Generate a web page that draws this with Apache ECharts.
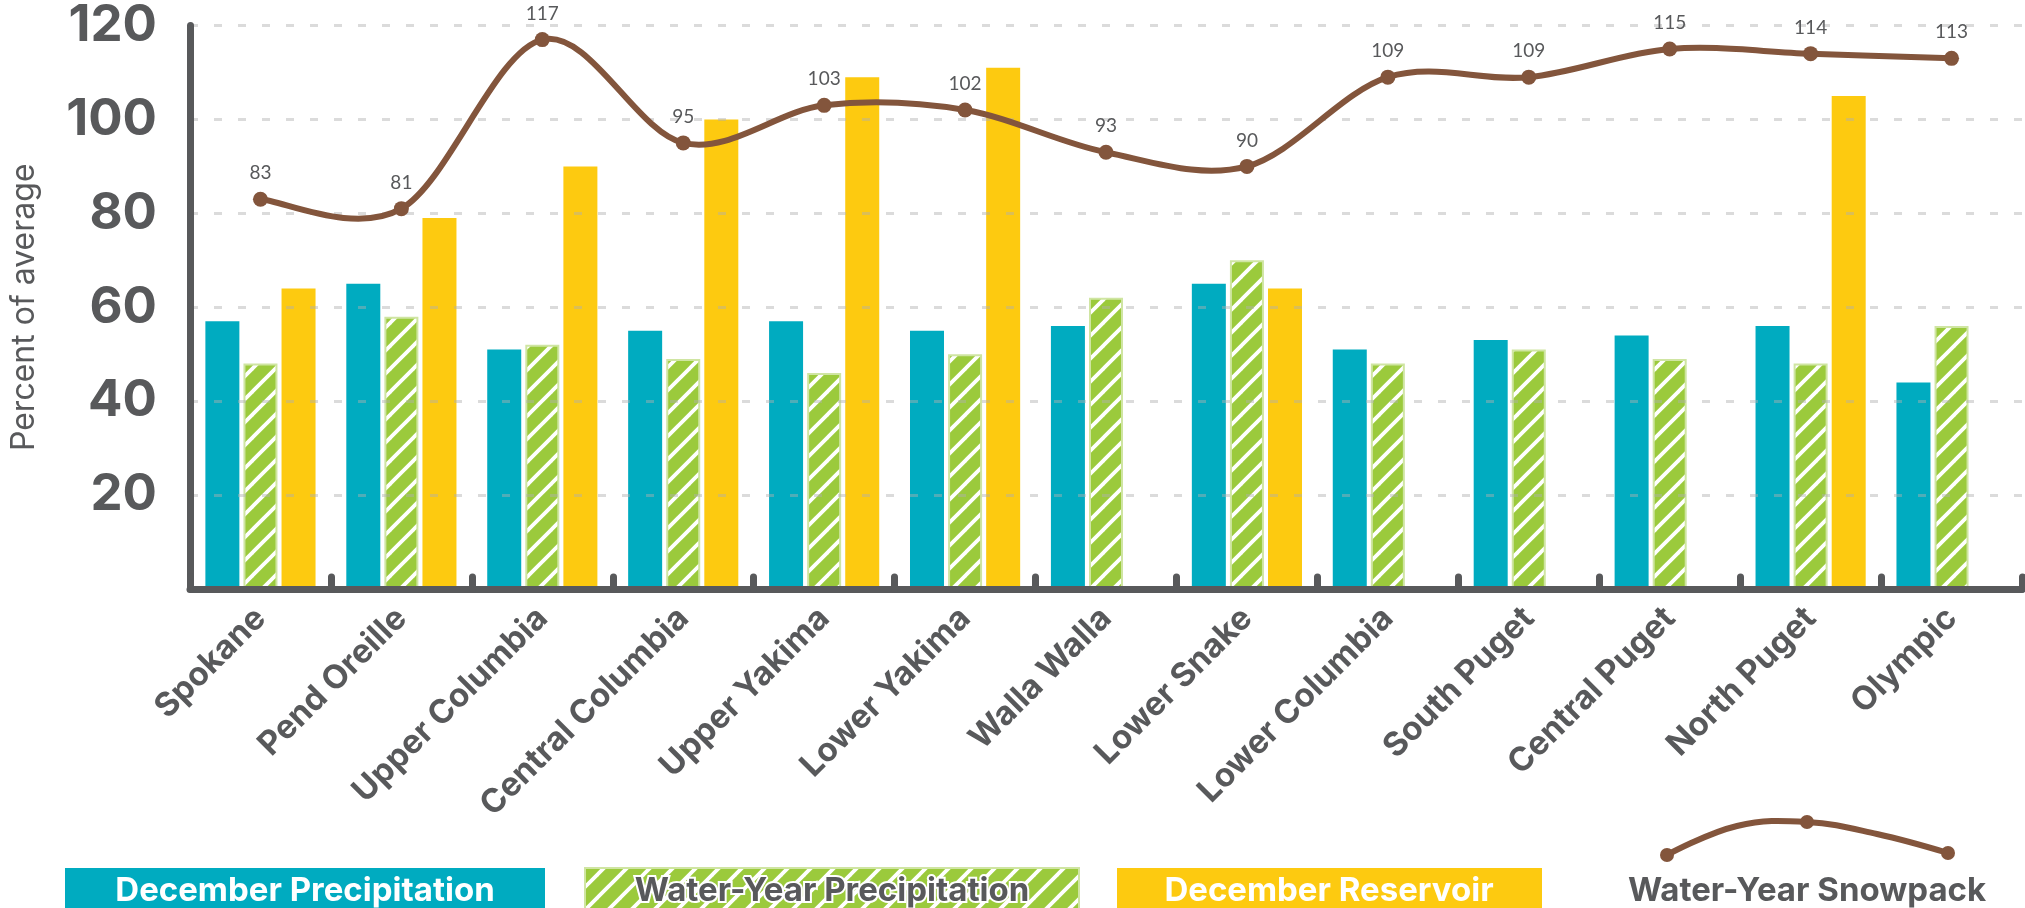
<!DOCTYPE html>
<html>
<head>
<meta charset="utf-8">
<script src="https://cdn.jsdelivr.net/npm/echarts@6/dist/echarts.min.js"></script>
<style>
html,body{margin:0;padding:0;background:#fff;}
#chart{width:2025px;height:908px;}
</style>
</head>
<body>
<div id="chart"></div>
<script>
const categories = ['Spokane','Pend Oreille','Upper Columbia','Central Columbia','Upper Yakima','Lower Yakima','Walla Walla','Lower Snake','Lower Columbia','South Puget','Central Puget','North Puget','Olympic'];
const decPrecip    = [57, 65, 51, 55, 57, 55, 56, 65, 51, 53, 54, 56, 44];
const wyPrecip     = [48, 58, 52, 49, 46, 50, 62, 70, 48, 51, 49, 48, 56];
const decReservoir = [64, 79, 90, 100, 109, 111, null, 64, null, null, null, 105, null];
const wySnowpack   = [83, 81, 117, 95, 103, 102, 93, 90, 109, 109, 115, 114, 113];
const seriesNames  = ['December Precipitation','Water-Year Precipitation','December Reservoir','Water-Year Snowpack'];
const yAxisName = 'Percent of average';

const GRAY = '#58595b';
const BLUE = '#00abc0';
const GREEN = '#9bca3c';
const YELLOW = '#fdca10';
const BROWN = '#83553c';
const FONT = 'Inter';

function stripeCanvas(size, bg, stripe, lw) {
  const c = document.createElement('canvas');
  c.width = size; c.height = size;
  const g = c.getContext('2d');
  g.fillStyle = bg; g.fillRect(0, 0, size, size);
  g.strokeStyle = stripe; g.lineWidth = lw; g.lineCap = 'butt';
  for (let k = -1; k <= 1; k++) {
    g.beginPath();
    g.moveTo(k * size - 2, size + 2);
    g.lineTo(k * size + size + 2, -2);
    g.stroke();
  }
  return c;
}
const stripes = stripeCanvas(23, GREEN, '#ffffff', 3.8);
const greenPattern = { image: stripes, repeat: 'repeat' };

// Smooth (Catmull-Rom) curve through the snowpack points, positioned via the axis scales
function renderSnowCurve(params, api) {
  if (params.dataIndex !== 0) return null;
  const pts = wySnowpack.map((v, i) => api.coord([i, v]));
  const n = pts.length;
  let d = 'M' + pts[0][0] + ' ' + pts[0][1];
  const k = 1 / 6;
  for (let i = 0; i < n - 1; i++) {
    const p0 = pts[Math.max(0, i - 1)], p1 = pts[i], p2 = pts[i + 1], p3 = pts[Math.min(n - 1, i + 2)];
    const c1x = p1[0] + (p2[0] - p0[0]) * k, c1y = p1[1] + (p2[1] - p0[1]) * k;
    const c2x = p2[0] - (p3[0] - p1[0]) * k, c2y = p2[1] - (p3[1] - p1[1]) * k;
    d += ' C' + c1x + ' ' + c1y + ' ' + c2x + ' ' + c2y + ' ' + p2[0] + ' ' + p2[1];
  }
  return { type: 'path', shape: { pathData: d }, style: { stroke: BROWN, lineWidth: 6, fill: 'none', lineCap: 'round', lineJoin: 'round' } };
}

const chart = echarts.init(document.getElementById('chart'), null, { renderer: 'canvas' });

const legendY = 868, legendH = 46, legendTextY = 891;
const option = {
  animation: false,
  backgroundColor: '#fff',
  grid: { left: 188, right: 3, top: 25.3, bottom: 319, containLabel: false },
  xAxis: {
    type: 'category',
    data: categories,
    boundaryGap: true,
    z: 4,
    axisLine: { show: true, lineStyle: { color: GRAY, width: 7, cap: 'round' } },
    axisTick: { show: true, inside: true, length: 12, alignWithLabel: false, lineStyle: { color: GRAY, width: 7, cap: 'round' } },
    axisLabel: { rotate: 45, margin: 24, color: GRAY, fontFamily: FONT, fontWeight: 'bold', fontSize: 33, interval: 0 },
    splitLine: { show: false }
  },
  yAxis: {
    type: 'value',
    min: 0, max: 120, interval: 20,
    z: 3,
    name: yAxisName,
    nameLocation: 'middle',
    nameGap: 150,
    nameRotate: 90,
    nameTextStyle: { color: GRAY, fontFamily: FONT, fontSize: 32, fontWeight: 'normal' },
    axisLine: { show: true, lineStyle: { color: GRAY, width: 7, cap: 'round' } },
    axisTick: { show: false },
    axisLabel: { color: GRAY, fontFamily: FONT, fontWeight: 'bold', fontSize: 51, margin: 33, showMinLabel: false,
      formatter: v => v === 0 ? '' : String(v) },
    splitLine: { show: true, lineStyle: { color: 'rgba(175,175,175,0.45)', width: 3, type: [8, 16] } }
  },
  series: [
    { name: seriesNames[0], type: 'bar', data: decPrecip, barWidth: 34, barGap: '12%', z: 2,
      itemStyle: { color: BLUE } },
    { name: seriesNames[1], type: 'bar', data: wyPrecip, barWidth: 34, barGap: '12%', z: 2,
      itemStyle: { color: greenPattern, borderColor: '#cfe5a2', borderWidth: 2 } },
    { name: seriesNames[2], type: 'bar', data: decReservoir, barWidth: 34, barGap: '12%', z: 2,
      itemStyle: { color: YELLOW } },
    { name: seriesNames[3] + ' curve', type: 'custom', data: wySnowpack.map((v, i) => [i, v]),
      encode: { x: 0, y: 1 }, renderItem: renderSnowCurve, z: 5, silent: true, clip: false },
    { name: seriesNames[3], type: 'line', data: wySnowpack, z: 6,
      symbol: 'circle', symbolSize: 15,
      lineStyle: { color: BROWN, width: 6, opacity: 0 },
      itemStyle: { color: BROWN },
      label: { show: true, position: 'top', distance: 9, color: GRAY, fontFamily: 'Lato', fontSize: 19 } }
  ],
  graphic: [
    { type: 'rect', shape: { x: 65, y: legendY, width: 480, height: legendH }, style: { fill: BLUE } },
    { type: 'text', style: { x: 305, y: legendTextY, text: seriesNames[0], fill: '#fff', font: 'bold 33px ' + FONT, align: 'center', verticalAlign: 'middle' } },
    { type: 'rect', shape: { x: 585, y: legendY, width: 494, height: legendH }, style: { fill: greenPattern, stroke: '#cfe5a2', lineWidth: 2 } },
    { type: 'text', style: { x: 832, y: legendTextY, text: seriesNames[1], fill: GRAY, font: 'bold 33px ' + FONT, align: 'center', verticalAlign: 'middle', stroke: '#fff', lineWidth: 4 } },
    { type: 'rect', shape: { x: 1117, y: legendY, width: 425, height: legendH }, style: { fill: YELLOW } },
    { type: 'text', style: { x: 1329, y: legendTextY, text: seriesNames[2], fill: '#fff', font: 'bold 33px ' + FONT, align: 'center', verticalAlign: 'middle' } },
    { type: 'polyline', shape: { points: [[1667, 855], [1737, 826], [1807, 822], [1877, 834], [1948, 853]], smooth: 0.4 }, style: { stroke: BROWN, lineWidth: 6, fill: null } },
    { type: 'circle', shape: { cx: 1667, cy: 855, r: 7 }, style: { fill: BROWN } },
    { type: 'circle', shape: { cx: 1807, cy: 822, r: 7 }, style: { fill: BROWN } },
    { type: 'circle', shape: { cx: 1948, cy: 853, r: 7 }, style: { fill: BROWN } },
    { type: 'text', style: { x: 1807, y: legendTextY, text: seriesNames[3], fill: GRAY, font: 'bold 33px ' + FONT, align: 'center', verticalAlign: 'middle' } }
  ]
};
chart.setOption(option);
</script>
</body>
</html>
